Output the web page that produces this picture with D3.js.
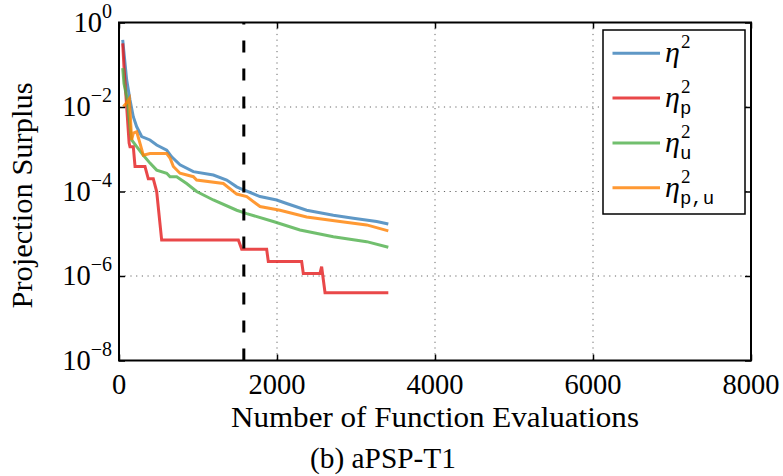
<!DOCTYPE html>
<html><head><meta charset="utf-8">
<script src="https://cdn.jsdelivr.net/npm/d3@7"></script>
<style>body{margin:0;background:#fff}svg{display:block}</style>
</head><body>
<svg id="c" width="783" height="476"></svg>
<script>
// ---------- data ----------
const xTicks = [0, 2000, 4000, 6000, 8000];
const yTickExps = [0, -2, -4, -6, -8];
const yTicks = [1, 1e-2, 1e-4, 1e-6, 1e-8];
const markerX = 1580;

const seriesNames = ["eta", "eta_p", "eta_u", "eta_pu"];
const legendSubs = ["", "p", "u", "p,u"];
const seriesColors = ["#377eb8", "#e41a1c", "#4daf4a", "#ff7f00"];

const blueX = [47, 97, 139, 181, 224, 287, 392, 477, 604, 667, 772, 941, 1194, 1363, 1490, 1574, 1785, 1996, 2122, 2375, 2713, 2966, 3262, 3409];
const blueY = [0.39, 0.044, 0.0148, 0.0059, 0.0034, 0.0020, 0.00166, 0.00126, 9.5e-4, 6.6e-4, 4.3e-4, 2.95e-4, 2.45e-4, 1.86e-4, 1.29e-4, 1.10e-4, 7.6e-5, 6.3e-5, 5.2e-5, 3.6e-5, 2.75e-5, 2.34e-5, 1.95e-5, 1.70e-5];

const redX = [47, 63, 97, 128, 139, 181, 203, 329, 371, 434, 477, 540, 1511, 1553, 1869, 1890, 2312, 2333, 2544, 2565, 2608, 3409];
const redY = [0.32, 0.089, 0.0102, 0.0014, 0.00115, 0.00115, 3.9e-4, 3.9e-4, 2.0e-4, 2.0e-4, 1.0e-4, 7.1e-6, 7.1e-6, 4.3e-6, 4.3e-6, 2.2e-6, 2.2e-6, 1.15e-6, 1.15e-6, 1.66e-6, 4.0e-7, 4.0e-7];

const greenX = [47, 63, 105, 139, 160, 224, 308, 392, 477, 604, 646, 730, 856, 983, 1194, 1490, 1617, 1953, 2291, 2713, 3135, 3409];
const greenY = [0.083, 0.036, 0.0148, 0.0034, 0.00166, 0.00115, 7.2e-4, 4.7e-4, 3.2e-4, 2.7e-4, 2.24e-4, 2.24e-4, 1.55e-4, 1.0e-4, 6.3e-5, 3.6e-5, 3.0e-5, 1.95e-5, 1.23e-5, 8.5e-6, 6.5e-6, 4.8e-6];

const orangeX = [55, 97, 131, 160, 181, 224, 266, 308, 392, 604, 646, 688, 772, 941, 983, 1321, 1490, 1617, 1785, 2038, 2375, 2797, 3135, 3409];
const orangeY = [0.0102, 0.0126, 0.0158, 0.00166, 0.0024, 0.0026, 0.00138, 7.2e-4, 7.9e-4, 7.9e-4, 6.2e-4, 3.9e-4, 2.7e-4, 2.24e-4, 1.86e-4, 1.55e-4, 8.7e-5, 7.6e-5, 4.4e-5, 3.6e-5, 2.5e-5, 1.95e-5, 1.62e-5, 1.17e-5];

const seriesX = [blueX, redX, greenX, orangeX];
const seriesY = [blueY, redY, greenY, orangeY];

// ---------- layout ----------
const L = 119, R = 751, T = 22.5, B = 360.5;
const SERIF = '"Liberation Serif"';
const MONO = '"Liberation Mono"';

const svg = d3.select("#c");
const x = d3.scaleLinear().domain([0, 8000]).range([L, R]);
const y = d3.scaleLog().domain([1e-8, 1]).range([B, T]);

// grid
const grid = svg.append("g").attr("stroke", "#666").attr("stroke-width", 1).attr("stroke-dasharray", "1.2,4.5");
grid.selectAll("line.gx").data(xTicks.slice(1, -1)).join("line")
  .attr("x1", d => x(d)).attr("x2", d => x(d)).attr("y1", T).attr("y2", B);
grid.selectAll("line.gy").data(yTicks.slice(1, -1)).join("line")
  .attr("y1", d => y(d)).attr("y2", d => y(d)).attr("x1", L).attr("x2", R);

// series
const line = d3.line().x(d => x(d[0])).y(d => y(d[1]));
seriesNames.forEach((name, i) => {
  const pts = seriesX[i].map((v, k) => [v, seriesY[i][k]]);
  svg.append("path").datum(pts)
    .attr("class", "series " + name)
    .attr("d", line)
    .attr("fill", "none")
    .attr("stroke", seriesColors[i])
    .attr("stroke-opacity", 0.8)
    .attr("stroke-width", 3);
});

// vertical dashed marker (drawn bottom to top)
svg.append("line")
  .attr("x1", x(markerX)).attr("x2", x(markerX))
  .attr("y1", B).attr("y2", T)
  .attr("stroke", "#000").attr("stroke-width", 3)
  .attr("stroke-dasharray", "12,16");

// axes via d3 axis (inward ticks, labels drawn separately)
const axB = d3.axisBottom(x).tickValues(xTicks).tickSize(-6).tickFormat("");
const axT = d3.axisTop(x).tickValues(xTicks).tickSize(-6).tickFormat("");
const axLft = d3.axisLeft(y).tickValues(yTicks).tickSize(-6).tickFormat("");
const axRt = d3.axisRight(y).tickValues(yTicks).tickSize(-6).tickFormat("");
function styleAxis(g) {
  g.select(".domain").remove();
  g.selectAll(".tick line").attr("stroke", "#000").attr("stroke-width", 1.5);
}
svg.append("g").attr("transform", `translate(0,${B})`).call(axB).call(styleAxis);
svg.append("g").attr("transform", `translate(0,${T})`).call(axT).call(styleAxis);
svg.append("g").attr("transform", `translate(${L},0)`).call(axLft).call(styleAxis);
svg.append("g").attr("transform", `translate(${R},0)`).call(axRt).call(styleAxis);

svg.append("rect").attr("x", L).attr("y", T).attr("width", R - L).attr("height", B - T)
  .attr("fill", "none").attr("stroke", "#000").attr("stroke-width", 2);

// x tick labels
svg.append("g").selectAll("text").data(xTicks).join("text")
  .attr("x", d => x(d)).attr("y", B + 33)
  .attr("text-anchor", "middle")
  .style("font-family", SERIF).style("font-size", "28.5px")
  .text(d => d);

// y tick labels 10^k
const yl = svg.append("g").selectAll("text").data(yTickExps).join("text")
  .attr("x", 112).attr("y", d => y(Math.pow(10, d)) + 9)
  .attr("text-anchor", "end")
  .style("font-family", SERIF).style("font-size", "28.5px");
yl.append("tspan").text("10");
yl.append("tspan").attr("dy", -14).style("font-size", "20px").text(d => d === 0 ? "0" : "\u2212" + (-d));

// axis titles
function fitText(sel, w) {
  const cur = sel.node().getComputedTextLength();
  if (Math.abs(cur - w) > 2) sel.attr("textLength", w).attr("lengthAdjust", "spacingAndGlyphs");
}
const xt = svg.append("text").attr("x", (L + R) / 2).attr("y", 427)
  .attr("text-anchor", "middle").style("font-family", SERIF).style("font-size", "28.5px")
  .text("Number of Function Evaluations");
fitText(xt, 408);
const yt = svg.append("text").attr("transform", `translate(32,${(T + B) / 2 + 4}) rotate(-90)`)
  .attr("text-anchor", "middle").style("font-family", SERIF).style("font-size", "28.5px")
  .text("Projection Surplus");
fitText(yt, 226);
const cap = svg.append("text").attr("x", 383).attr("y", 468)
  .attr("text-anchor", "middle").style("font-family", SERIF).style("font-size", "28.5px")
  .text("(b) aPSP-T1");
fitText(cap, 146);

// legend
const lg = svg.append("g");
lg.append("rect").attr("x", 603).attr("y", 30).attr("width", 142).attr("height", 184)
  .attr("fill", "#fff").attr("stroke", "#000").attr("stroke-width", 1.5);
seriesNames.forEach((name, i) => {
  const cy = 53.3 + i * 44.8;
  lg.append("line").attr("x1", 612.5).attr("x2", 660).attr("y1", cy).attr("y2", cy)
    .attr("stroke", seriesColors[i]).attr("stroke-opacity", 0.8).attr("stroke-width", 3);
  const t = lg.append("text").attr("x", 665).attr("y", cy + 9)
    .style("font-family", SERIF).style("font-size", "30px");
  const eta = t.append("tspan").style("font-style", "italic").text("\u03b7");
  const ew = eta.node().getComputedTextLength();
  t.append("tspan").attr("x", 665 + ew + 1).attr("y", cy - 5).style("font-size", "19px").text("2");
  if (legendSubs[i]) {
    t.append("tspan").attr("x", 665 + ew).attr("y", cy + 16)
      .style("font-family", MONO).style("font-size", "19px").text(legendSubs[i]);
  }
});
</script>
</body></html>
